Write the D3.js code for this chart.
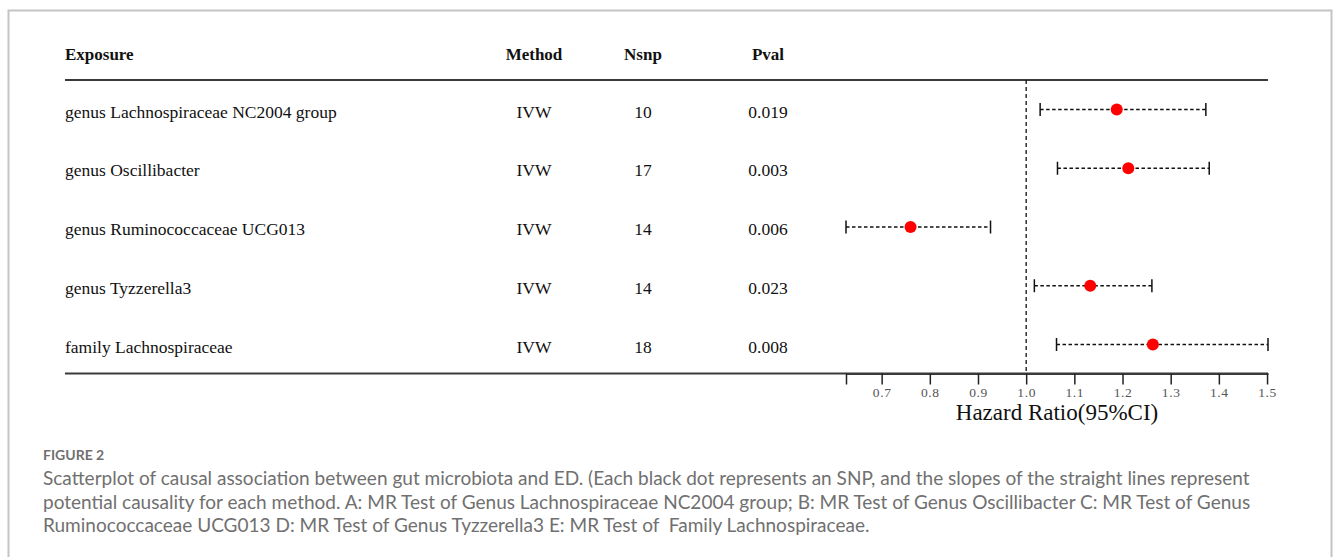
<!DOCTYPE html>
<html>
<head>
<meta charset="utf-8">
<script src="https://cdn.jsdelivr.net/npm/d3@7"></script>
<style>
  body { margin: 0; background: #fff; }
  .head { font-family: "Liberation Serif", "Times New Roman", serif; font-weight: bold; font-size: 17px; fill: #111; }
  .cell { font-family: "Liberation Serif", "Times New Roman", serif; font-size: 17.5px; fill: #111; }
  .caption { font-family: Lato, "Open Sans", sans-serif; fill: #707070; }
</style>
</head>
<body>
<div id="chart"></div>
<script>
const exposures = [
  "genus Lachnospiraceae NC2004 group",
  "genus Oscillibacter",
  "genus Ruminococcaceae UCG013",
  "genus Tyzzerella3",
  "family Lachnospiraceae"
];
const methods = ["IVW", "IVW", "IVW", "IVW", "IVW"];
const nsnp = [10, 17, 14, 14, 18];
const pvals = ["0.019", "0.003", "0.006", "0.023", "0.008"];
const hr = [1.188, 1.212, 0.760, 1.133, 1.263];
const ciLow = [1.029, 1.065, 0.626, 1.017, 1.063];
const ciHigh = [1.373, 1.380, 0.926, 1.261, 1.502];
const hrTicks = [0.7, 0.8, 0.9, 1.0, 1.1, 1.2, 1.3, 1.4, 1.5];
const headers = ["Exposure", "Method", "Nsnp", "Pval"];
const captionTitle = "FIGURE 2";
const captionLines = [
  "Scatterplot of causal association between gut microbiota and ED. (Each black dot represents an SNP, and the slopes of the straight lines represent",
  "potential causality for each method. A: MR Test of Genus Lachnospiraceae NC2004 group; B: MR Test of Genus Oscillibacter C: MR Test of Genus",
  "Ruminococcaceae UCG013 D: MR Test of Genus Tyzzerella3 E: MR Test of  Family Lachnospiraceae."
];

const W = 1333, H = 557;
const svg = d3.select("#chart").append("svg")
    .attr("width", W)
    .attr("height", H);

// frame round the figure
svg.append("rect")
    .attr("x", 8.5).attr("y", 10.5)
    .attr("width", 1323).attr("height", 600)
    .attr("fill", "none")
    .attr("stroke", "#c4c4c4")
    .attr("stroke-width", 2);

const rows = exposures.map((e, i) => ({
    exposure: e, method: methods[i], nsnp: nsnp[i], pval: pvals[i],
    hr: hr[i], lo: ciLow[i], hi: ciHigh[i]
}));

const x = d3.scaleLinear()
    .domain([d3.min(ciLow), d3.max(ciHigh)])
    .range([846, 1268]);

const y = d3.scalePoint()
    .domain(exposures)
    .range([109.5, 344.5]);

const tableLeft = 65, tableRight = 1268;
const headY = 60, headRule = 80, bottomRule = 373.5;
const colX = {Method: 534, Nsnp: 643, Pval: 768};

// header
svg.append("text").attr("class", "head")
    .attr("x", tableLeft).attr("y", headY).text(headers[0]);
headers.slice(1).forEach(h => {
    svg.append("text").attr("class", "head")
        .attr("x", colX[h]).attr("y", headY)
        .attr("text-anchor", "middle").text(h);
});

svg.append("line")
    .attr("x1", tableLeft).attr("x2", tableRight)
    .attr("y1", headRule).attr("y2", headRule)
    .attr("stroke", "#3a3a3a").attr("stroke-width", 2);

// table cells
const rowG = svg.selectAll(".row")
    .data(rows)
    .enter()
    .append("g")
    .attr("class", "row")
    .attr("transform", d => `translate(0, ${y(d.exposure) + 8})`);

rowG.append("text").attr("class", "cell")
    .attr("x", tableLeft).text(d => d.exposure);
rowG.append("text").attr("class", "cell")
    .attr("x", colX.Method).attr("text-anchor", "middle").text(d => d.method);
rowG.append("text").attr("class", "cell")
    .attr("x", colX.Nsnp).attr("text-anchor", "middle").text(d => d.nsnp);
rowG.append("text").attr("class", "cell")
    .attr("x", colX.Pval).attr("text-anchor", "middle").text(d => d.pval);

// reference line at HR = 1
svg.append("line")
    .attr("x1", x(1)).attr("x2", x(1))
    .attr("y1", headRule).attr("y2", bottomRule)
    .attr("stroke", "#111")
    .attr("stroke-width", 1.3)
    .attr("stroke-dasharray", "4,3");

// confidence intervals
const ci = svg.selectAll(".ci")
    .data(rows)
    .enter()
    .append("g")
    .attr("class", "ci");

ci.append("line")
    .attr("x1", d => x(d.lo)).attr("x2", d => x(d.hi))
    .attr("y1", d => y(d.exposure)).attr("y2", d => y(d.exposure))
    .attr("stroke", "#111")
    .attr("stroke-width", 1.3)
    .attr("stroke-dasharray", "3.5,2.5");

["lo", "hi"].forEach(k => {
    ci.append("line")
        .attr("x1", d => x(d[k])).attr("x2", d => x(d[k]))
        .attr("y1", d => y(d.exposure) - 6.5).attr("y2", d => y(d.exposure) + 6.5)
        .attr("stroke", "#111")
        .attr("stroke-width", 1.5);
});

ci.append("circle")
    .attr("cx", d => x(d.hr))
    .attr("cy", d => y(d.exposure))
    .attr("r", 6)
    .attr("fill", "#ff0000");

// bottom rule of the table
svg.append("line")
    .attr("x1", tableLeft).attr("x2", tableRight)
    .attr("y1", bottomRule).attr("y2", bottomRule)
    .attr("stroke", "#3a3a3a").attr("stroke-width", 2);

// x axis
const axis = svg.append("g")
    .attr("class", "axis")
    .attr("transform", `translate(0, ${bottomRule})`)
    .call(d3.axisBottom(x)
        .tickValues([x.domain()[0], ...hrTicks])
        .tickFormat(d => hrTicks.includes(d) ? d3.format(".1f")(d) : "")
        .tickSize(11)
        .tickSizeOuter(0)
        .tickPadding(3));

axis.select(".domain")
    .attr("stroke", "#3a3a3a").attr("stroke-width", 2);
axis.selectAll(".tick line")
    .attr("stroke", "#222").attr("stroke-width", 1.5);
axis.selectAll(".tick text")
    .style("font-family", "Liberation Serif, Times New Roman, serif")
    .style("font-size", "13.5px")
    .style("letter-spacing", "0.6px")
    .attr("fill", "#555");

svg.append("text")
    .attr("x", (x.range()[0] + x.range()[1]) / 2)
    .attr("y", 420)
    .attr("text-anchor", "middle")
    .attr("font-family", "Liberation Serif, Times New Roman, serif")
    .attr("font-size", 23)
    .attr("fill", "#111")
    .text("Hazard Ratio(95%CI)");

// caption
svg.append("text")
    .attr("class", "caption")
    .attr("x", 43).attr("y", 460)
    .attr("font-size", 14)
    .attr("font-weight", "bold")
    .attr("fill", "#858585")
    .text(captionTitle);

const cap = svg.selectAll(".capline")
    .data(captionLines)
    .enter()
    .append("text")
    .attr("class", "caption capline")
    .attr("x", 43)
    .attr("y", (d, i) => 485 + i * 23.5)
    .attr("font-size", 17)
    .attr("xml:space", "preserve")
    .style("white-space", "pre")
    .text(d => d);

// fit the caption size so the first line runs to the same right edge
const firstLen = cap.node().getComputedTextLength();
const capSize = 17 * 1208 / firstLen;
cap.attr("font-size", capSize);
</script>
</body>
</html>
